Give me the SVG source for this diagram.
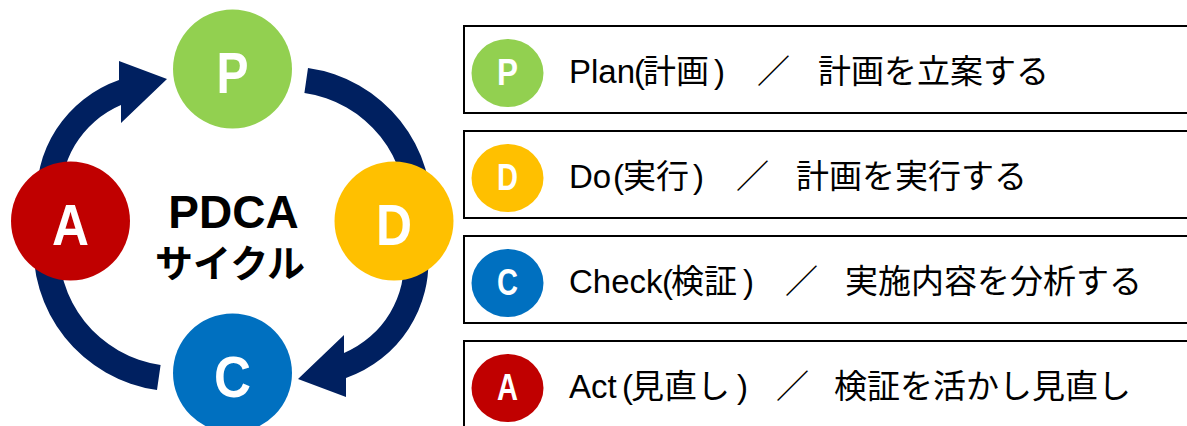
<svg xmlns="http://www.w3.org/2000/svg" width="1187" height="426" viewBox="0 0 1187 426">
<style>
.arc{fill:#002060}
.big{font-family:"Liberation Sans",Arial,sans-serif;font-weight:bold;font-size:58px;fill:#fff;text-anchor:middle}
.small{font-family:"Liberation Sans",Arial,sans-serif;font-weight:bold;font-size:36px;fill:#fff;text-anchor:middle}
.box{fill:#fff;stroke:#000;stroke-width:2}
.row{font-family:"Liberation Sans","Noto Sans CJK JP",sans-serif;font-size:33px;fill:#000}
.ctr{font-family:"Liberation Sans","Noto Sans CJK JP",sans-serif;font-weight:bold;fill:#000;text-anchor:middle}
.gP{fill:#92D050}.gD{fill:#FFC000}.gC{fill:#0070C0}.gA{fill:#C00000}
</style>
<rect width="1187" height="426" fill="#fff"/>
<g id="connectors">
<path class="arc" d="M37,206.7 A123 123 0 0 1 119,80 L119,61 L167,79 L121,123 L121,105 A98.8 98.8 0 0 0 61.3,204.6 Z"/>
<path class="arc" d="M428,251.3 A123 123 0 0 1 346,378 L346,397 L298,379 L344,335 L344,353 A98.8 98.8 0 0 0 403.7,253.4 Z"/>
<path class="arc" d="M34,235.5 A143.5 143.5 0 0 0 157,390 L160.6,364.9 A118 118 0 0 1 59.4,237.7 Z"/>
<path class="arc" d="M431,222.5 A143.5 143.5 0 0 0 308,68 L304.4,93.1 A118 118 0 0 1 405.6,220.3 Z"/>
</g>
<g id="node-P"><circle class="gP" cx="232.5" cy="69" r="59.5"/><text class="big" x="232.5" y="93" textLength="32" lengthAdjust="spacingAndGlyphs">P</text></g>
<g id="node-D"><circle class="gD" cx="394" cy="221" r="59.5"/><text class="big" x="394" y="245" textLength="36" lengthAdjust="spacingAndGlyphs">D</text></g>
<g id="node-C"><circle class="gC" cx="232.5" cy="373" r="59.5"/><text class="big" x="232.5" y="397" textLength="37" lengthAdjust="spacingAndGlyphs">C</text></g>
<g id="node-A"><circle class="gA" cx="70.5" cy="221" r="59.5"/><text class="big" x="70.5" y="245" textLength="37" lengthAdjust="spacingAndGlyphs">A</text></g>
<g id="center-label">
<text class="ctr" x="233.5" y="228" font-size="46">PDCA</text>
<text class="ctr" x="230" y="277" font-size="38">サイクル</text>
</g>
<g id="row-P">
<rect class="box" x="464" y="26" width="740" height="87"/>
<ellipse class="gP" cx="507.5" cy="73" rx="36" ry="34"/>
<text class="small" x="507.5" y="85" textLength="21" lengthAdjust="spacingAndGlyphs">P</text>
<text class="row" y="83"><tspan x="569">Plan</tspan><tspan x="634">(</tspan><tspan x="643">計画</tspan><tspan x="714">)</tspan><tspan x="757">／</tspan><tspan x="818">計画を立案する</tspan></text>
</g>
<g id="row-D">
<rect class="box" x="464" y="131" width="740" height="87"/>
<ellipse class="gD" cx="507.5" cy="178" rx="36" ry="34"/>
<text class="small" x="507.5" y="190" textLength="21" lengthAdjust="spacingAndGlyphs">D</text>
<text class="row" y="188"><tspan x="569">Do</tspan><tspan x="613">(</tspan><tspan x="623">実行</tspan><tspan x="693">)</tspan><tspan x="736">／</tspan><tspan x="796">計画を実行する</tspan></text>
</g>
<g id="row-C">
<rect class="box" x="464" y="236" width="740" height="87"/>
<ellipse class="gC" cx="507.5" cy="283" rx="36" ry="34"/>
<text class="small" x="507.5" y="295" textLength="21" lengthAdjust="spacingAndGlyphs">C</text>
<text class="row" y="293"><tspan x="569">Check</tspan><tspan x="662">(</tspan><tspan x="671">検証</tspan><tspan x="743">)</tspan><tspan x="785">／</tspan><tspan x="845">実施内容を分析する</tspan></text>
</g>
<g id="row-A">
<rect class="box" x="464" y="341" width="740" height="100"/>
<ellipse class="gA" cx="507.5" cy="388" rx="36" ry="34"/>
<text class="small" x="507.5" y="400" textLength="21" lengthAdjust="spacingAndGlyphs">A</text>
<text class="row" y="398"><tspan x="569">Act</tspan><tspan x="622">(</tspan><tspan x="631">見直し</tspan><tspan x="737">)</tspan><tspan x="776">／</tspan><tspan x="834">検証を活かし見直し</tspan></text>
</g>
</svg>
